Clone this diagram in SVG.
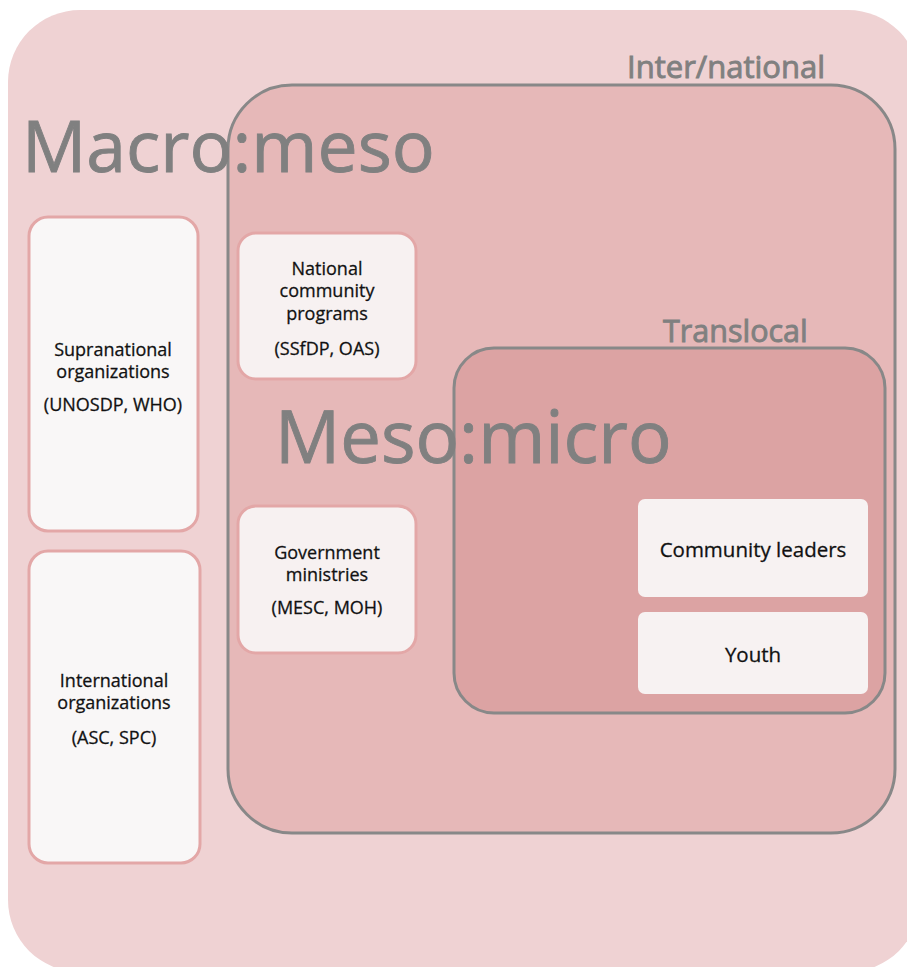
<svg xmlns="http://www.w3.org/2000/svg" width="907" height="967" viewBox="0 0 907 967">
<style>
.big{font-family:"Open Sans","DejaVu Sans",sans-serif;fill:#808080;stroke:#808080;stroke-width:0.9}
.lbl{font-family:"Open Sans","DejaVu Sans",sans-serif;font-size:18px;fill:#111;stroke:#111;stroke-width:0.28;text-anchor:middle}
.lbl.lg{font-size:20.5px}
.card{fill:#f9f7f7;stroke:#e3a7a7;stroke-width:3}
.card2{fill:#f7f1f1;stroke:#e3a7a7;stroke-width:3}
.micro{fill:#f7f2f2}
.frame{stroke:#888;stroke-width:3}
</style>
<rect width="907" height="967" fill="#ffffff"/>
<g id="outer">
<rect x="8" y="10" width="912" height="962" rx="72" fill="#efd2d3"/>
</g>
<g id="internat">
<rect x="228" y="85" width="667" height="748" rx="64" fill="#e6b8b8" class="frame"/>
<text class="big" x="627" y="78" font-size="31">Inter/national</text>
</g>
<g id="translocal">
<rect x="454" y="348" width="431" height="365" rx="40" fill="#dca3a3" class="frame"/>
<text class="big" x="663" y="342" font-size="30.5">Translocal</text>
</g>
<text class="big" x="22" y="172" font-size="71.5">Macro:meso</text>
<text class="big" x="275" y="463" font-size="72.5">Meso:micro</text>
<g id="supranational">
<rect class="card" x="29" y="217" width="169" height="314" rx="19"/>
<text class="lbl" x="113" y="356">Supranational</text>
<text class="lbl" x="113" y="378">organizations</text>
<text class="lbl" x="113" y="411">(UNOSDP, WHO)</text>
</g>
<g id="international">
<rect class="card" x="29" y="551" width="171" height="312" rx="19"/>
<text class="lbl" x="114" y="687">International</text>
<text class="lbl" x="114" y="709">organizations</text>
<text class="lbl" x="114" y="744">(ASC, SPC)</text>
</g>
<g id="national">
<rect class="card2" x="238" y="233" width="178" height="146" rx="18"/>
<text class="lbl" x="327" y="275">National</text>
<text class="lbl" x="327" y="297">community</text>
<text class="lbl" x="327" y="320">programs</text>
<text class="lbl" x="327" y="355">(SSfDP, OAS)</text>
</g>
<g id="government">
<rect class="card2" x="238" y="506" width="178" height="147" rx="18"/>
<text class="lbl" x="327" y="559">Government</text>
<text class="lbl" x="327" y="581">ministries</text>
<text class="lbl" x="327" y="614">(MESC, MOH)</text>
</g>
<g id="community">
<rect class="micro" x="638" y="499" width="230" height="98" rx="7"/>
<text class="lbl lg" x="753" y="557">Community leaders</text>
</g>
<g id="youth">
<rect class="micro" x="638" y="612" width="230" height="82" rx="7"/>
<text class="lbl lg" x="753" y="662">Youth</text>
</g>
<g id="connectors"></g>
</svg>
